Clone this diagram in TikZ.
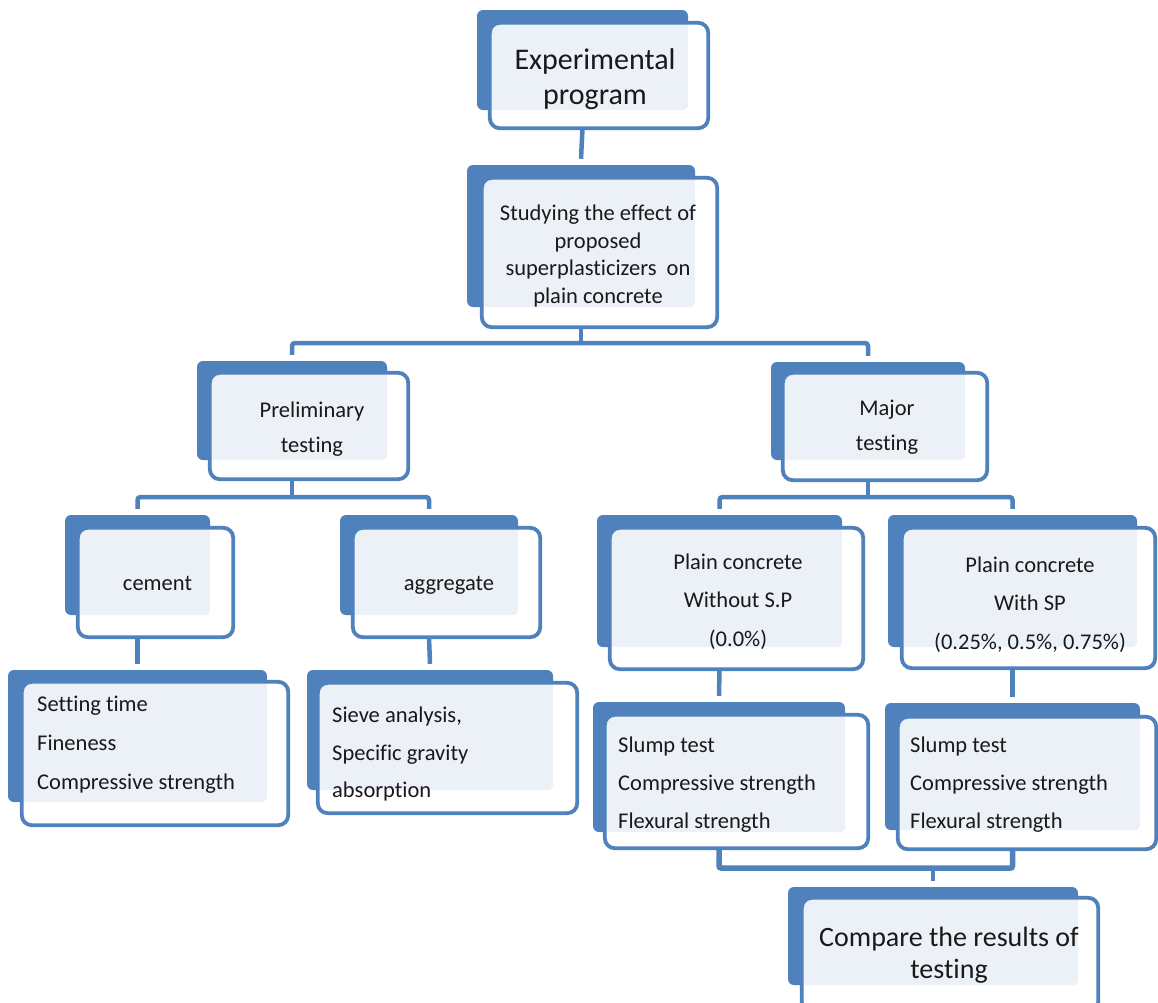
\documentclass[tikz,border=0pt]{standalone}
\usepackage{fontspec}
\setmainfont{Carlito}[Ligatures={NoCommon}]
\usetikzlibrary{fit}
\definecolor{bblue}{RGB}{79,129,189}
\definecolor{lightc}{RGB}{236,241,248}
\tikzset{
 backbox/.style={fill=bblue, rounded corners=6pt, inner sep=0pt, draw=none},
 frontbox/.style={fill=white, rounded corners=10pt, inner sep=0pt},
 frontline/.style={draw=bblue, line width=3.8pt, rounded corners=10pt},
 conn/.style={draw=bblue, line width=4.5pt},
 txt/.style={inner sep=0pt, text=black!90, font=\fontsize{22.5}{27.5}\selectfont},
}
\newcommand\mkbox[9]{%
 \node[backbox, fit={(#2,#3) (#4,#5)}] (#1B) {};
 \node[frontbox, fit={(#6,#7) (#8,#9)}] (#1F) {};
 \begin{scope}
 \clip[rounded corners=10pt] (#1F.north west) rectangle (#1F.south east);
 \fill[lightc, rounded corners=6pt] (#1B.north west) rectangle (#1B.south east);
 \end{scope}
 \draw[frontline] (#1F.north west) rectangle (#1F.south east);
}
\begin{document}
\begin{tikzpicture}[x=1pt,y=-1pt]
\useasboundingbox[fill=white] (0,0) rectangle (1158,1002);
% boxes
\mkbox{exp}{477}{10}{688}{110}{490}{23}{708}{128}
\mkbox{study}{467}{165}{695}{307}{482}{178}{717}{327}
\mkbox{prelim}{197}{361}{387}{460}{210}{373}{408}{479}
\mkbox{major}{771}{362}{965}{460}{783}{373}{987}{480}
\mkbox{cement}{65}{515}{210}{615}{78}{528}{233}{637}
\mkbox{aggr}{340}{515}{518}{615}{353}{528}{540}{637}
\mkbox{plainA}{597}{515}{842}{647}{610}{528}{863}{669}
\mkbox{plainB}{888}{515}{1137}{647}{902}{528}{1155}{668}
\mkbox{setting}{8}{670}{267}{802}{22}{682}{288}{825}
\mkbox{sieve}{307}{670}{553}{790}{318}{683}{577}{813}
\mkbox{slumpL}{593}{702}{845}{832}{605}{715}{868}{848}
\mkbox{slumpR}{885}{703}{1140}{830}{898}{717}{1156}{849}
\mkbox{compare}{788}{887}{1078}{985}{802}{898}{1098}{1012}
% texts
\node[txt, font=\fontsize{30}{35}\selectfont, align=center] (expT) at (595,78.75) {Experimental\\program};
\node[txt, align=center] (studyT) at (598,256) {Studying the effect of\\proposed\\superplasticizers~ on\\plain concrete};
\node[txt, font=\fontsize{22.5}{35}\selectfont, align=center] (prelimT) at (312,429.4) {Preliminary\\testing};
\node[txt, font=\fontsize{22.5}{35}\selectfont, align=center] (majorT) at (887,427.4) {Major\\testing};
\node[txt] (cementT) at (157.5,583) {cement};
\node[txt] (aggrT) at (449,585) {aggregate};
\node[txt, font=\fontsize{22.5}{38.5}\selectfont, align=center] (plainAT) at (738,601.4) {Plain concrete\\Without S.P\\(0.0\%)};
\node[txt, font=\fontsize{22.5}{38.5}\selectfont, align=center] (plainBT) at (1030,604.4) {Plain concrete\\With SP\\(0.25\%, 0.5\%, 0.75\%)};
\node[txt, font=\fontsize{22.5}{39}\selectfont, align=left, anchor=west] (settingT) at (37,744.3) {Setting time\\Fineness\\Compressive strength};
\node[txt, font=\fontsize{22.5}{37.5}\selectfont, align=left, anchor=west] (sieveT) at (332,754.4) {Sieve analysis,\\Specific gravity\\absorption};
\node[txt, font=\fontsize{22.5}{38}\selectfont, align=left, anchor=west] (slumpLT) at (618,784.9) {Slump test\\Compressive strength\\Flexural strength};
\node[txt, font=\fontsize{22.5}{38}\selectfont, align=left, anchor=west] (slumpRT) at (910,784.9) {Slump test\\Compressive strength\\Flexural strength};
\node[txt, font=\fontsize{28}{32}\selectfont, align=center] (compareT) at (949,954.7) {Compare the results of\\testing};
% bus coordinates
\coordinate (bus1) at (0,343);
\coordinate (bus2) at (0,497);
\coordinate (bus4) at (0,868);
% connectors
\draw[conn] (expB.center |- expF.south) -- ([yshift=6pt]studyB.north);
\draw[conn] (studyB.center |- studyF.south) -- (studyB.center |- bus1);
\draw[conn, rounded corners=3pt] ([yshift=6pt]prelimB.north) |- (majorB.center |- bus1) -- ([yshift=6pt]majorB.north);
\draw[conn] (prelimB.center |- prelimF.south) -- (prelimB.center |- bus2);
\draw[conn, rounded corners=3pt] ([yshift=6pt]cementB.north) |- (aggrB.center |- bus2) -- ([yshift=6pt]aggrB.north);
\draw[conn] (majorB.center |- majorF.south) -- (majorB.center |- bus2);
\draw[conn, rounded corners=3pt] ([yshift=6pt]plainAB.north) |- (plainBB.center |- bus2) -- ([yshift=6pt]plainBB.north);
\draw[conn] (cementB.center |- cementF.south) -- ([yshift=6pt]settingB.north);
\draw[conn] (aggrB.center |- aggrF.south) -- ([yshift=6pt]sieveB.north);
\draw[conn] (plainAB.center |- plainAF.south) -- ([yshift=6pt]slumpLB.north);
\draw[conn] (plainBB.center |- plainBF.south) -- ([yshift=6pt]slumpRB.north);
\draw[conn, line width=5.5pt, rounded corners=2pt] (slumpLB.center |- slumpLF.south) |- (slumpRB.center |- bus4) -- (slumpRB.center |- slumpRF.south);
\draw[conn] (compareB.center |- bus4) -- ([yshift=6pt]compareB.north);
\end{tikzpicture}
\end{document}
